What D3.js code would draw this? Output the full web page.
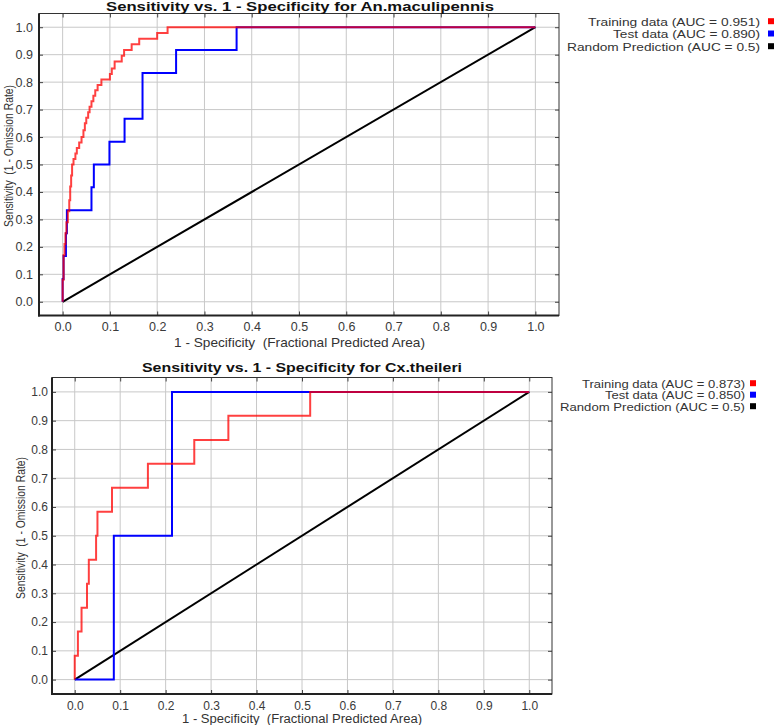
<!DOCTYPE html>
<html>
<head>
<meta charset="utf-8">
<script src="https://cdn.jsdelivr.net/npm/d3@7"></script>
<style>
  html, body { margin: 0; padding: 0; background: #fff; }
  text { font-family: "Liberation Sans", Arial, sans-serif; }
</style>
</head>
<body>
<svg id="chart" width="775" height="725"></svg>
<script>
// ---------- DATA ----------
const tickValues = [0, 0.1, 0.2, 0.3, 0.4, 0.5, 0.6, 0.7, 0.8, 0.9, 1.0];
const tickLabels = ["0.0","0.1","0.2","0.3","0.4","0.5","0.6","0.7","0.8","0.9","1.0"];

const titles = [
  "Sensitivity vs. 1 - Specificity for An.maculipennis",
  "Sensitivity vs. 1 - Specificity for Cx.theileri"
];
const xAxisTitle = "1 - Specificity  (Fractional Predicted Area)";
const yAxisTitle = "Sensitivity  (1 - Omission Rate)";

const legendTop = ["Training data (AUC = 0.951)", "Test data (AUC = 0.890)", "Random Prediction (AUC = 0.5)"];
const legendBottom = ["Training data (AUC = 0.873)", "Test data (AUC = 0.850)", "Random Prediction (AUC = 0.5)"];
const seriesColors = ["#ff0000", "#0000ff", "#000000"];

// An.maculipennis - training (step risers: x where the curve rises, y reached)
const anTrainX = [0, 0, 0.002, 0.004, 0.006, 0.008, 0.011, 0.014, 0.016, 0.018, 0.020, 0.023, 0.027, 0.030, 0.035, 0.040, 0.044, 0.047, 0.050, 0.054, 0.057, 0.061, 0.065, 0.069, 0.074, 0.082, 0.100, 0.104, 0.110, 0.125, 0.130, 0.146, 0.162, 0.200, 0.222, 1.0];
const anTrainY = [0, 0.08, 0.17, 0.21, 0.25, 0.29, 0.33, 0.37, 0.42, 0.46, 0.50, 0.52, 0.54, 0.56, 0.58, 0.60, 0.625, 0.65, 0.67, 0.69, 0.71, 0.73, 0.75, 0.77, 0.79, 0.81, 0.83, 0.85, 0.875, 0.896, 0.917, 0.938, 0.958, 0.979, 1.0, 1.0];
// An.maculipennis - test
const anTestX = [0, 0, 0.002, 0.007, 0.009, 0.061, 0.066, 0.099, 0.131, 0.169, 0.240, 0.368, 1.0];
const anTestY = [0, 0.083, 0.167, 0.25, 0.333, 0.417, 0.5, 0.583, 0.667, 0.833, 0.917, 1.0, 1.0];

// Cx.theileri - training
const cxTrainX = [0, 0, 0.007, 0.015, 0.027, 0.031, 0.047, 0.050, 0.082, 0.161, 0.263, 0.338, 0.518, 1.0];
const cxTrainY = [0, 0.083, 0.167, 0.25, 0.333, 0.417, 0.5, 0.583, 0.667, 0.75, 0.833, 0.917, 1.0, 1.0];
// Cx.theileri - test
const cxTestX = [0, 0.086, 0.214, 1.0];
const cxTestY = [0, 0.5, 1.0, 1.0];

// Random prediction
const randomX = [0, 1];
const randomY = [0, 1];

// ---------- DRAW ----------
const svg = d3.select("#chart");

function zip(xs, ys) { return xs.map((x, i) => [x, ys[i]]); }

function drawPanel(cfg) {
  const x = d3.scaleLinear().domain([-0.05, 1.05]).range([cfg.x0, cfg.x1]);
  const y = d3.scaleLinear().domain([-0.05, 1.05]).range([cfg.y1, cfg.y0]);
  const g = svg.append("g");

  // grid
  g.append("g").selectAll("line").data(tickValues).join("line")
    .attr("x1", d => x(d)).attr("x2", d => x(d))
    .attr("y1", cfg.y0).attr("y2", cfg.y1)
    .attr("stroke", "#c8c8c8").attr("stroke-width", 1);
  g.append("g").selectAll("line").data(tickValues).join("line")
    .attr("x1", cfg.x0).attr("x2", cfg.x1)
    .attr("y1", d => y(d)).attr("y2", d => y(d))
    .attr("stroke", "#c8c8c8").attr("stroke-width", 1);

  // axes with inward ticks (all four sides)
  const tl = 4;
  const fmt = (d) => tickLabels[tickValues.indexOf(d)];
  const axB = g.append("g").attr("transform", `translate(0,${cfg.y1})`)
    .call(d3.axisBottom(x).tickValues(tickValues).tickSizeInner(-tl).tickSizeOuter(0).tickPadding(cfg.xPad).tickFormat(fmt));
  const axL = g.append("g").attr("transform", `translate(${cfg.x0},0)`)
    .call(d3.axisLeft(y).tickValues(tickValues).tickSizeInner(-tl).tickSizeOuter(0).tickPadding(cfg.yPad).tickFormat(fmt));
  const axT = g.append("g").attr("transform", `translate(0,${cfg.y0})`)
    .call(d3.axisTop(x).tickValues(tickValues).tickSizeInner(-tl).tickSizeOuter(0).tickFormat(""));
  const axR = g.append("g").attr("transform", `translate(${cfg.x1},0)`)
    .call(d3.axisRight(y).tickValues(tickValues).tickSizeInner(-tl).tickSizeOuter(0).tickFormat(""));
  [axB, axL, axT, axR].forEach(a => {
    a.select(".domain").remove();
    a.selectAll(".tick line").attr("stroke", "#444");
    a.selectAll(".tick text").attr("fill", "#3a3a3a")
      .style("font-family", "'Liberation Sans', Arial, sans-serif").style("font-size", cfg.tickFont + "px");
  });

  // frame
  g.append("rect").attr("x", cfg.x0).attr("y", cfg.y0)
    .attr("width", cfg.x1 - cfg.x0).attr("height", cfg.y1 - cfg.y0)
    .attr("fill", "none").attr("stroke", "#333").attr("stroke-width", 1);
  g.append("line").attr("x1", cfg.x0).attr("x2", cfg.x0).attr("y1", cfg.y0).attr("y2", cfg.y1 + 1)
    .attr("stroke", "#222").attr("stroke-width", 2);
  g.append("line").attr("x1", cfg.x0 - 1).attr("x2", cfg.x1).attr("y1", cfg.y1).attr("y2", cfg.y1)
    .attr("stroke", "#222").attr("stroke-width", 2);

  // series
  const stepLine = d3.line().x(d => x(d[0])).y(d => y(d[1])).curve(d3.curveStepAfter);
  const straight = d3.line().x(d => x(d[0])).y(d => y(d[1]));
  g.append("path").attr("d", straight(zip(randomX, randomY)))
    .attr("fill", "none").attr("stroke", seriesColors[2]).attr("stroke-width", 2);
  g.append("path").attr("d", stepLine(zip(cfg.testX, cfg.testY)))
    .attr("fill", "none").attr("stroke", seriesColors[1]).attr("stroke-width", 2);
  g.append("path").attr("d", stepLine(zip(cfg.trainX, cfg.trainY)))
    .attr("fill", "none").attr("stroke", seriesColors[0]).attr("stroke-width", 2)
    .attr("stroke-opacity", 0.75);

  // title
  g.append("text").attr("x", cfg.titleX).attr("y", cfg.titleY)
    .attr("text-anchor", "middle").attr("font-weight", "bold").attr("font-size", cfg.titleFont)
    .attr("textLength", cfg.titleLen).attr("lengthAdjust", "spacingAndGlyphs")
    .attr("fill", "#111").text(cfg.title);

  // axis titles
  g.append("text").attr("x", cfg.xtX).attr("y", cfg.xtY)
    .attr("text-anchor", "middle").attr("font-size", cfg.xtFont).attr("fill", "#333")
    .attr("textLength", cfg.xtLen).attr("lengthAdjust", "spacingAndGlyphs")
    .attr("xml:space", "preserve").text(xAxisTitle);
  g.append("text")
    .attr("transform", `translate(${cfg.ytX},${cfg.ytY}) rotate(-90)`)
    .attr("text-anchor", "middle").attr("dominant-baseline", "central")
    .attr("font-size", 12).attr("fill", "#333")
    .attr("textLength", 142).attr("lengthAdjust", "spacingAndGlyphs")
    .attr("xml:space", "preserve").text(yAxisTitle);

  // legend
  const lg = g.append("g");
  cfg.legend.forEach((t, i) => {
    const cy = cfg.legY[i];
    lg.append("text").attr("x", cfg.legX).attr("y", cy)
      .attr("text-anchor", "end").attr("dominant-baseline", "central")
      .attr("font-size", cfg.legFont).attr("fill", "#333")
      .attr("textLength", cfg.legLen[i]).attr("lengthAdjust", "spacingAndGlyphs")
      .text(t);
    lg.append("rect").attr("x", cfg.legX + cfg.sqOff).attr("y", cy - 3.5)
      .attr("width", 6).attr("height", 6).attr("fill", seriesColors[i]);
  });
}

drawPanel({
  x0: 39, x1: 559, y0: 13.5, y1: 315.5,
  xPad: 7, yPad: 6, tickFont: 12.5,
  trainX: anTrainX, trainY: anTrainY, testX: anTestX, testY: anTestY,
  title: titles[0], titleX: 300, titleY: 11, titleFont: 13, titleLen: 388,
  xtX: 299.5, xtY: 347, xtFont: 13, xtLen: 251, ytX: 8.5, ytY: 156,
  legend: legendTop, legX: 760, legY: [21.7, 34, 46.7], legFont: 11, legLen: [172, 147, 193], sqOff: 8
});

drawPanel({
  x0: 52, x1: 552, y0: 377.5, y1: 694,
  xPad: 7, yPad: 4, tickFont: 12,
  trainX: cxTrainX, trainY: cxTrainY, testX: cxTestX, testY: cxTestY,
  title: titles[1], titleX: 302, titleY: 372, titleFont: 13, titleLen: 320,
  xtX: 302, xtY: 723, xtFont: 12.5, xtLen: 240, ytX: 20.7, ytY: 528,
  legend: legendBottom, legX: 745, legY: [383.7, 395.2, 406.7], legFont: 10.5, legLen: [163, 140, 185], sqOff: 5
});
</script>
</body>
</html>
